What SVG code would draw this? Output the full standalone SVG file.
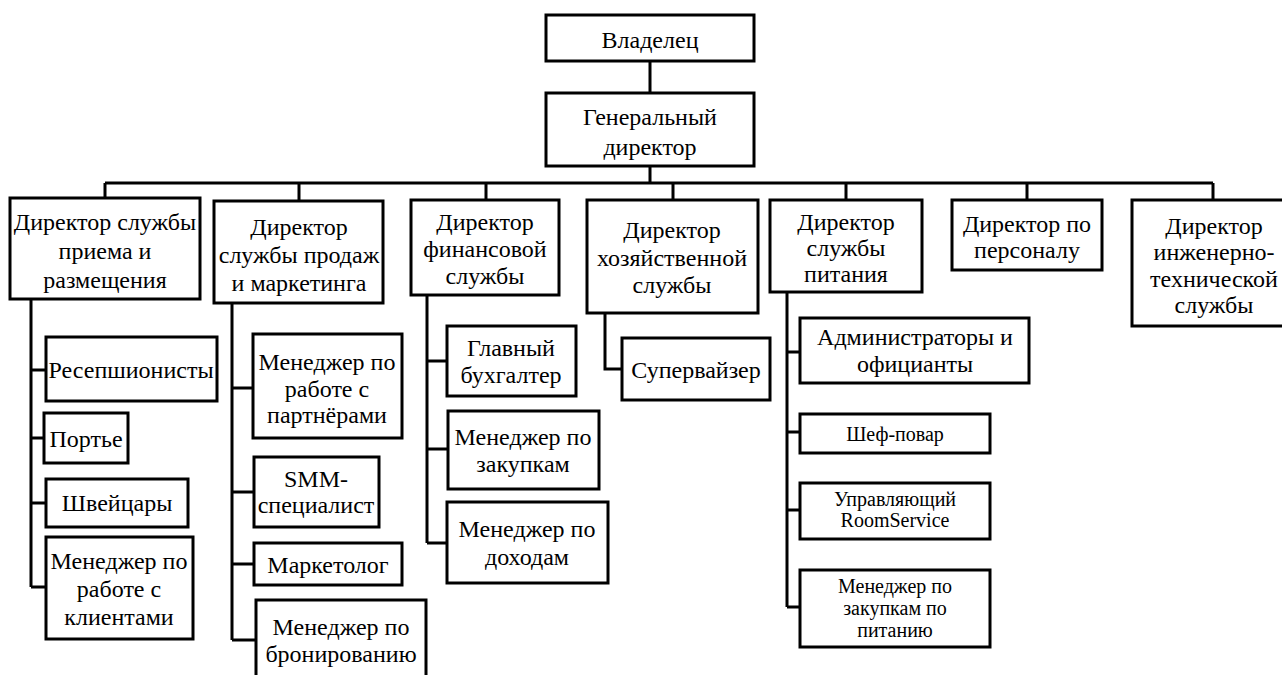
<svg xmlns="http://www.w3.org/2000/svg" width="1282" height="675" viewBox="0 0 1282 675">
<style>
rect{fill:#fff;stroke:#000;stroke-width:3}
text{font-family:"Liberation Serif","Times New Roman",serif;font-size:24px;fill:#000;text-anchor:middle}
text.s{font-size:20px}
.c path{fill:none;stroke:#000;stroke-width:3}
</style>
<rect x="0" y="0" width="1282" height="675" style="stroke:none"/>
<g class="c" id="connectors">
<path d="M650,61V93M650,166V183M105,183H1213M105,183V198M299,183V201M486,183V200M673,183V200M846,183V200M1027,183V200M1213,183V200"/>
<path d="M31,299V587M31,370H46M31,438H44M31,503H46M31,587H46"/>
<path d="M232,303V640M232,388H253M232,492H254M232,564H254M232,640H256"/>
<path d="M427,295V543M427,361H447M427,449H448M427,543H447"/>
<path d="M605,313V369H622"/>
<path d="M787,292V607M787,352H800M787,432H800M787,510H800M787,607H800"/>
</g>
<g id="n-owner"><rect x="546" y="15" width="208" height="46"/><text x="650" y="48">Владелец</text></g>
<g id="n-gd"><rect x="546" y="93" width="208" height="73"/><text x="650" y="125">Генеральный</text><text x="650" y="155">директор</text></g>
<g id="n-d1"><rect x="10" y="198" width="190" height="101"/><text x="105" y="230">Директор службы</text><text x="105" y="259">приема и</text><text x="105" y="288">размещения</text></g>
<g id="n-d2"><rect x="214" y="201" width="169" height="102"/><text x="299" y="235">Директор</text><text x="299" y="263">службы продаж</text><text x="299" y="291">и маркетинга</text></g>
<g id="n-d3"><rect x="411" y="200" width="148" height="95"/><text x="485" y="230">Директор</text><text x="485" y="257">финансовой</text><text x="485" y="284">службы</text></g>
<g id="n-d4"><rect x="587" y="200" width="171" height="113"/><text x="672" y="238">Директор</text><text x="672" y="266">хозяйственной</text><text x="672" y="293">службы</text></g>
<g id="n-d5"><rect x="770" y="200" width="152" height="92"/><text x="846" y="230">Директор</text><text x="846" y="256">службы</text><text x="846" y="282">питания</text></g>
<g id="n-d6"><rect x="952" y="200" width="150" height="70"/><text x="1027" y="232">Директор по</text><text x="1027" y="258">персоналу</text></g>
<g id="n-d7"><rect x="1132" y="200" width="160" height="126"/><text x="1214" y="234">Директор</text><text x="1214" y="260">инженерно-</text><text x="1214" y="287">технической</text><text x="1214" y="313">службы</text></g>
<g id="n-rec"><rect x="46" y="337" width="171" height="64"/><text x="131" y="378">Ресепшионисты</text></g>
<g id="n-port"><rect x="44" y="413" width="84" height="50"/><text x="86" y="447">Портье</text></g>
<g id="n-shv"><rect x="46" y="479" width="142" height="48"/><text x="117" y="511">Швейцары</text></g>
<g id="n-mkl"><rect x="46" y="537" width="147" height="102"/><text x="119" y="569">Менеджер по</text><text x="119" y="597">работе с</text><text x="119" y="625">клиентами</text></g>
<g id="n-mpart"><rect x="253" y="334" width="149" height="104"/><text x="327" y="370">Менеджер по</text><text x="327" y="397">работе с</text><text x="327" y="423">партнёрами</text></g>
<g id="n-smm"><rect x="254" y="457" width="125" height="70"/><text x="316" y="487">SMM-</text><text x="316" y="513">специалист</text></g>
<g id="n-mark"><rect x="254" y="543" width="148" height="42"/><text x="328" y="573">Маркетолог</text></g>
<g id="n-bron"><rect x="256" y="600" width="170" height="90"/><text x="341" y="635">Менеджер по</text><text x="341" y="662">бронированию</text></g>
<g id="n-buh"><rect x="447" y="326" width="129" height="70"/><text x="511" y="356">Главный</text><text x="511" y="383">бухгалтер</text></g>
<g id="n-zak"><rect x="448" y="411" width="151" height="78"/><text x="523" y="445">Менеджер по</text><text x="523" y="472">закупкам</text></g>
<g id="n-doh"><rect x="447" y="502" width="161" height="81"/><text x="527" y="537">Менеджер по</text><text x="527" y="565">доходам</text></g>
<g id="n-sup"><rect x="622" y="338" width="148" height="62"/><text x="696" y="378">Супервайзер</text></g>
<g id="n-adm"><rect x="800" y="318" width="229" height="65"/><text x="915" y="345">Администраторы и</text><text x="915" y="372">официанты</text></g>
<g id="n-chef"><rect x="800" y="414" width="190" height="39"/><text class="s" x="895" y="441">Шеф-повар</text></g>
<g id="n-room"><rect x="800" y="483" width="190" height="56"/><text class="s" x="895" y="506">Управляющий</text><text class="s" x="895" y="527">RoomService</text></g>
<g id="n-zakpit"><rect x="800" y="570" width="190" height="77"/><text class="s" x="895" y="593">Менеджер по</text><text class="s" x="895" y="615">закупкам по</text><text class="s" x="895" y="637">питанию</text></g>
</svg>
